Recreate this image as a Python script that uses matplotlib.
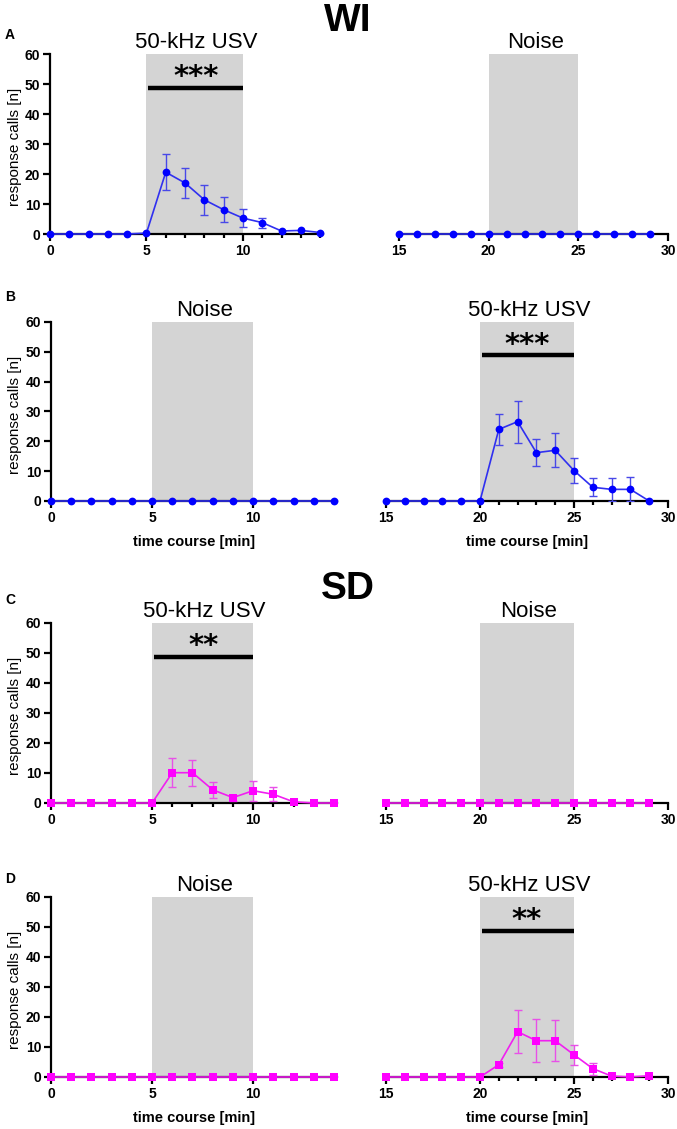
import numpy as np
import matplotlib
matplotlib.use("Agg")
import matplotlib.pyplot as plt
from matplotlib.ticker import MultipleLocator

plt.rcParams['font.family'] = ['Liberation Sans', 'DejaVu Sans']

# ---------------- data ----------------
time_first = list(range(0, 15))
time_second = list(range(15, 30))

wi_usv_first_mean = [0, 0, 0, 0, 0, 0.3, 20.6, 17.0, 11.4, 8.1, 5.3, 3.8, 1.0, 1.2, 0.5]
wi_usv_first_sem = [0, 0, 0, 0, 0, 0, 6.0, 5.1, 4.9, 4.2, 2.9, 1.7, 0, 0, 0]
wi_noise_second_mean = [0] * 15
wi_noise_second_sem = [0] * 15

wi_noise_first_mean = [0] * 15
wi_noise_first_sem = [0] * 15
wi_usv_second_mean = [0, 0, 0, 0, 0, 0, 24.0, 26.6, 16.2, 17.0, 10.2, 4.6, 3.9, 3.9, 0]
wi_usv_second_sem = [0, 0, 0, 0, 0, 0, 5.1, 7.0, 4.5, 5.7, 4.1, 3.0, 3.9, 4.0, 0]

sd_usv_first_mean = [0, 0, 0, 0, 0, 0, 10.1, 10.1, 4.4, 1.8, 4.1, 2.9, 0.4, 0, 0]
sd_usv_first_sem = [0, 0, 0, 0, 0, 0, 4.9, 4.3, 2.7, 1.0, 3.4, 2.3, 0, 0, 0]
sd_noise_second_mean = [0] * 15
sd_noise_second_sem = [0] * 15

sd_noise_first_mean = [0] * 15
sd_noise_first_sem = [0] * 15
sd_usv_second_mean = [0, 0, 0, 0, 0, 0, 4.1, 15.1, 12.1, 12.1, 7.4, 2.8, 0.3, 0, 0.4]
sd_usv_second_sem = [0, 0, 0, 0, 0, 0, 0.6, 7.1, 7.1, 6.8, 3.4, 2.0, 0, 0, 0]

stim_first = (5, 10)
stim_second = (20, 25)
yticks = [0, 10, 20, 30, 40, 50, 60]
xticks_first = [0, 5, 10]
xticks_second = [15, 20, 25, 30]

# ---------------- styling ----------------
W, H = 677, 1129
BLUE = '#0000ff'
BLUE_LINE = '#3030f0'
BLUE_ERR = '#4848e8'
MAG = '#ff00ff'
MAG_LINE = '#f020f0'
MAG_ERR = '#e850e8'
SHADE = '#d4d4d4'

fig = plt.figure(figsize=(W / 100, H / 100), dpi=100)


def px_axes(x0, x1, y_bottom, y_top):
    return fig.add_axes([x0 / W, 1 - y_bottom / H, (x1 - x0) / W, (y_bottom - y_top) / H])


def style_axes(ax, left_panel, xlim, xticks):
    ax.set_xlim(*xlim)
    ax.set_ylim(0, 60)
    ax.patch.set_alpha(0)
    for s in ['top', 'right']:
        ax.spines[s].set_visible(False)
    ax.spines['bottom'].set_linewidth(1.6)
    ax.spines['left'].set_linewidth(1.6)
    ax.spines['bottom'].set_zorder(2)
    ax.set_xticks(xticks)
    ax.xaxis.set_minor_locator(MultipleLocator(1))
    ax.tick_params(axis='x', which='major', direction='out', length=5, width=1.6, pad=2,
                   labelsize=10)
    ax.tick_params(axis='x', which='minor', direction='out', length=3, width=1.6)
    for lab in ax.get_xticklabels():
        lab.set_fontweight('bold')
    if left_panel:
        ax.set_yticks(yticks)
        ax.tick_params(axis='y', direction='out', length=5, width=1.6, pad=2, labelsize=10)
        for lab in ax.get_yticklabels():
            lab.set_fontweight('bold')
    else:
        ax.spines['left'].set_visible(False)
        ax.set_yticks([])


def draw_panel(ax, x, mean, sem, stim, title, color, lcolor, ecolor, marker, msize,
               stars=None, title_x=None, star_x=None, bar_y=48.8, star_y=49.6):
    ax.axvspan(stim[0], stim[1], ymin=0, ymax=60.7 / 60, color=SHADE, lw=0, zorder=0)
    ax.text(title_x, 62, title, ha='center', va='baseline', fontsize=16, clip_on=False)
    if stars:
        ax.plot([stim[0] + 0.1, stim[1]], [bar_y, bar_y], color='black', lw=3.2,
                solid_capstyle='butt', zorder=3)
        ax.text(star_x, star_y, stars, ha='center', va='baseline', fontsize=21,
                fontweight='bold', family='DejaVu Sans', zorder=3)
    sem_arr = np.asarray(sem, dtype=float)
    has_err = sem_arr > 0
    xa = np.asarray(x)
    ma = np.asarray(mean, dtype=float)
    if has_err.any():
        ax.errorbar(xa[has_err], ma[has_err], yerr=sem_arr[has_err], fmt='none',
                    ecolor=ecolor, elinewidth=1.0, capsize=3, capthick=1.0, zorder=4)
    ax.plot(x, mean, color=lcolor, lw=1.2, zorder=5, clip_on=False)
    ax.plot(x, mean, linestyle='none', marker=marker, markersize=msize, color=color,
            markeredgewidth=0, zorder=6, clip_on=False)


# pixel geometry of each row: (y of value 0, y of value 60)
rows = [(234, 54), (501, 322), (803, 623), (1077, 897)]
left_x = [(50, 323), (51, 337), (51, 337), (51, 337)]
right_x = [(399, 668), (386, 668), (386, 668), (386, 668)]

panels = [
    dict(first=(wi_usv_first_mean, wi_usv_first_sem, '50-kHz USV', '***'),
         second=(wi_noise_second_mean, wi_noise_second_sem, 'Noise', None),
         col=(BLUE, BLUE_LINE, BLUE_ERR, 'o', 5.6)),
    dict(first=(wi_noise_first_mean, wi_noise_first_sem, 'Noise', None),
         second=(wi_usv_second_mean, wi_usv_second_sem, '50-kHz USV', '***'),
         col=(BLUE, BLUE_LINE, BLUE_ERR, 'o', 5.6)),
    dict(first=(sd_usv_first_mean, sd_usv_first_sem, '50-kHz USV', '**'),
         second=(sd_noise_second_mean, sd_noise_second_sem, 'Noise', None),
         col=(MAG, MAG_LINE, MAG_ERR, 's', 5.2)),
    dict(first=(sd_noise_first_mean, sd_noise_first_sem, 'Noise', None),
         second=(sd_usv_second_mean, sd_usv_second_sem, '50-kHz USV', '**'),
         col=(MAG, MAG_LINE, MAG_ERR, 's', 5.2)),
]

labels = ['A', 'B', 'C', 'D']
label_y = [35, 297, 600, 879]

for i, (p, (y0, y60)) in enumerate(zip(panels, rows)):
    c, lc, ec, mk, ms = p['col']
    axL = px_axes(left_x[i][0], left_x[i][1], y0, y60)
    style_axes(axL, True, (0, 14.15), xticks_first)
    m, s, t, st = p['first']
    draw_panel(axL, time_first, m, s, stim_first, t, c, lc, ec, mk, ms, stars=st,
               title_x=7.6, star_x=7.55)

    axR = px_axes(right_x[i][0], right_x[i][1], y0, y60)
    style_axes(axR, False, (15, 30), xticks_second)
    m, s, t, st = p['second']
    draw_panel(axR, time_second, m, s, stim_second, t, c, lc, ec, mk, ms, stars=st,
               title_x=22.6, star_x=22.5)

    # y label
    fig.text(15 / W, 1 - ((y0 + y60) / 2 + 3) / H, 'response calls [n]', rotation=90,
             ha='center', va='center', fontsize=11)
    # panel letter
    fig.text(5 / W, 1 - label_y[i] / H, labels[i], ha='left', va='center',
             fontsize=10, fontweight='bold')

    if i in (1, 3):
        for ax, (xa, xb) in ((axL, left_x[i]), (axR, right_x[i])):
            fig.text(((xa + xb) / 2) / W, 1 - (y0 + 41) / H, 'time course [min]',
                     ha='center', va='center', fontsize=10.5, fontweight='bold')

# group headings
fig.text(348 / W, 1 - 31 / H, 'WI', ha='center', va='baseline', fontsize=28, fontweight='bold')
fig.text(348 / W, 1 - 599 / H, 'SD', ha='center', va='baseline', fontsize=28, fontweight='bold')

fig.savefig('out.png', dpi=100)
